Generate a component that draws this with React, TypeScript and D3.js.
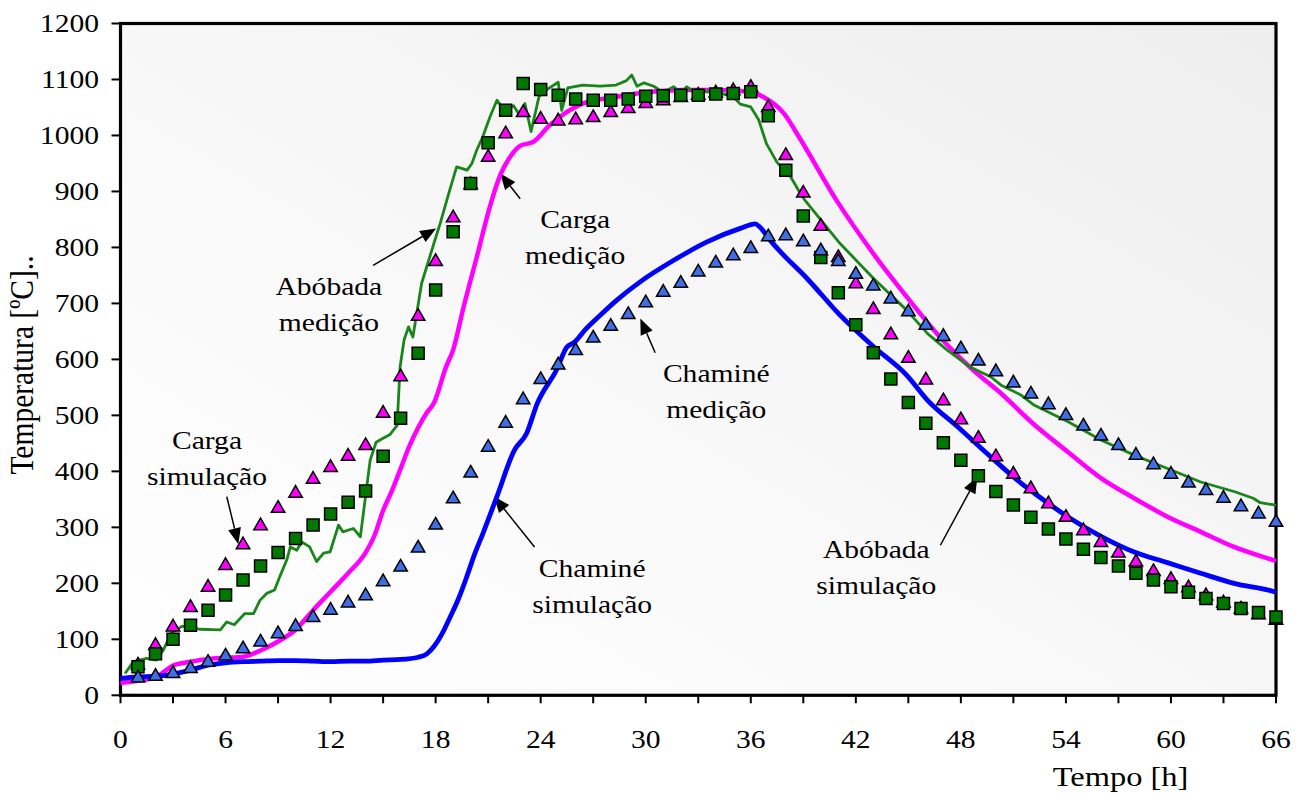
import React, { useRef, useEffect } from 'react';
import * as d3 from 'd3';

const W = 1305;
const H = 794;
const margin = { top: 23.5, right: 29, bottom: 98.7, left: 120.5 };
const SX = 1.16; // the original picture is a bit wider than tall in its lettering

// axes
const xTicks = [0, 3, 6, 9, 12, 15, 18, 21, 24, 27, 30, 33, 36, 39, 42, 45, 48, 51, 54, 57, 60, 63, 66];
const xLabels = [0, 6, 12, 18, 24, 30, 36, 42, 48, 54, 60, 66];
const yTicks = [0, 100, 200, 300, 400, 500, 600, 700, 800, 900, 1000, 1100, 1200];

// hourly points (simulation of carga / abobada, measurement of chaminé)
const pointHours = [1, 2, 3, 4, 5, 6, 7, 8, 9, 10, 11, 12, 13, 14, 15, 16, 17, 18, 19, 20, 21, 22,
  23, 24, 25, 26, 27, 28, 29, 30, 31, 32, 33, 34, 35, 36, 37, 38, 39, 40, 41, 42, 43, 44,
  45, 46, 47, 48, 49, 50, 51, 52, 53, 54, 55, 56, 57, 58, 59, 60, 61, 62, 63, 64, 65, 66];

const cargaSim = [52, 87, 120, 155, 191, 230, 267, 301, 332, 359, 384, 405, 425, 444, 502, 567, 675, 773,
  851, 910, 959, 1001, 1039, 1027, 1024, 1026, 1030, 1039, 1046, 1055, 1060, 1066, 1070, 1074, 1078, 1084,
  1048, 962, 895, 836, 780, 733, 687, 642, 600, 561, 524, 490, 457, 424, 393, 367, 340, 316, 292, 271,
  252, 236, 219, 205, 190, 176, 163, 152, 142, 132];

const abobadaSim = [51, 74, 100, 125, 152, 179, 206, 231, 255, 280, 304, 324, 345, 365, 427, 495, 611, 724,
  828, 914, 987, 1045, 1093, 1082, 1072, 1065, 1063, 1063, 1065, 1070, 1071, 1072, 1072, 1074, 1075, 1078,
  1035, 938, 856, 782, 719, 662, 612, 565, 523, 486, 451, 420, 392, 364, 340, 318, 297, 279, 261, 246,
  231, 218, 206, 194, 184, 173, 164, 155, 148, 140];

const chamineMed = [29, 32, 37, 46, 57, 68, 81, 93, 108, 121, 137, 150, 163, 176, 201, 227, 261, 302,
  349, 395, 441, 484, 526, 562, 588, 614, 636, 657, 678, 699, 718, 734, 754, 770, 783, 796,
  817, 819, 808, 792, 773, 750, 729, 706, 683, 659, 639, 617, 595, 576, 556, 536, 517, 498, 479, 461,
  444, 427, 410, 393, 377, 364, 350, 335, 322, 307];

// continuous curves
const abobadaMedT = [0.26, 0.73, 1.5, 2.07, 2.45, 2.9, 3.5, 3.97, 4.5, 5.7, 6.07, 6.5, 7.1, 7.6, 7.97, 8.35,
  8.8, 9.1, 9.5, 9.7, 10.07, 10.35, 10.8, 11.2, 11.6, 11.97, 12.45, 12.7, 13.3, 13.7, 13.97, 14.26, 14.6,
  15.0, 15.4, 15.8, 15.97, 16.2, 16.45, 16.7, 17.2, 17.9, 18.26, 18.8, 19.2, 19.8, 20.07, 20.35, 20.7,
  21.1, 21.5, 21.9, 22.45, 22.8, 23.1, 23.45, 23.9, 24.35, 25.0, 25.2, 25.55, 26.4, 27.4, 28.3, 28.9,
  29.2, 29.5, 29.9, 30.45, 31.0, 31.6, 32.0, 32.35, 32.7, 33.5, 34.1, 35.0, 35.4, 36.0, 36.45, 36.9,
  37.5, 38.3, 38.8, 39.1, 41.1, 43.0, 44.9, 46.1, 47.2, 48.5, 49.7, 50.3, 51.4, 52.2, 54.1, 56.0, 57.9,
  59.8, 61.7, 63.6, 64.7, 65.1, 65.9, 66];
const abobadaMedV = [39, 60, 66, 63, 81, 111, 123, 123, 118, 117, 131, 126, 146, 146, 170, 182,
  188, 212, 242, 265, 259, 274, 265, 239, 254, 256, 304, 292, 298, 283, 349, 420, 452,
  459, 466, 482, 587, 635, 658, 640, 736, 807, 843, 902, 944, 938, 950, 974, 998,
  1033, 1063, 1046, 1053, 1036, 1057, 1007, 1069, 1082, 1095, 1045, 1085, 1090, 1088, 1090, 1098,
  1108, 1088, 1094, 1088, 1077, 1087, 1076, 1087, 1079, 1078, 1077, 1069, 1056, 1051, 1028, 985,
  952, 925, 898, 884, 807, 745, 688, 646, 617, 587, 569, 554, 537, 518, 489, 456, 429,
  405, 381, 364, 352, 344, 340, 339];

const cargaMedT = [0, 1, 2, 3, 4, 5, 6, 7, 8, 9, 10, 11, 12, 13, 14, 14.5, 15, 15.5, 16, 16.5, 17, 17.5,
  17.9, 18.6, 19.0, 19.6, 20.35, 21.1, 21.7, 22.26, 22.8, 23.6, 24.5, 25.5, 26.4, 28.35, 30.3, 32.1,
  34.1, 36.0, 36.7, 37.9, 38.8, 40.9, 43.0, 44.9, 46.8, 48.7, 50.3, 52.1, 54.1, 56.0, 57.9, 59.8,
  61.7, 63.6, 65.8, 66];
const cargaMedV = [22, 26, 32, 53, 60, 65, 67, 69, 80, 96, 117, 152, 185, 218, 255, 285, 330, 365, 405, 445, 478, 505,
  522, 587, 617, 694, 783, 873, 930, 962, 981, 989, 1018, 1042, 1057, 1069, 1078, 1081,
  1081, 1078, 1069, 1039, 995, 884, 789, 712, 640, 581, 539, 486, 435, 388, 352, 319,
  292, 265, 242, 240];

const chamineSimT = [0, 1, 2, 3, 4, 5, 6, 7, 8, 9, 10, 11, 12, 13, 14, 15, 16, 17, 17.5, 17.9, 18.4, 18.83,
  19.3, 19.78, 20.2, 20.7, 21.5, 22.5, 23.2, 23.8, 24.9, 25.5, 25.9, 26.6, 27.4, 28.35, 29.7, 31.6,
  33.5, 35.4, 36.26, 36.5, 37.1, 37.7, 39.2, 41.1, 43.0, 44.9, 46.1, 47.8, 49.7, 51.4, 52.2, 54.1,
  56.0, 57.9, 59.8, 61.7, 63.6, 65.9, 66];
const chamineSimV = [30, 33, 34, 38, 45, 54, 58, 60, 61, 62, 62, 61, 60, 61, 61, 63, 64, 68, 74, 87, 112, 140,
  172, 212, 250, 289, 355, 438, 468, 521, 581, 622, 630, 655, 679, 706, 739, 777,
  810, 834, 842, 837, 813, 792, 745, 679, 623, 572, 527, 480, 426, 380, 361, 319,
  284, 256, 237, 218, 200, 185, 184];

// callouts, placed in chart units (hours, °C)
const notes = [
  { lines: ['Abóbada', 'medição'], t: 11.9, v: 715, from: [14.43, 768], to: [18.03, 834] },
  { lines: ['Carga', 'medição'], t: 25.97, v: 834, from: [22.83, 887], to: [21.69, 932] },
  { lines: ['Carga', 'simulação'], t: 4.94, v: 440, from: [6.07, 355], to: [6.73, 270] },
  { lines: ['Chaminé', 'medição'], t: 34.03, v: 559, from: [30.54, 612], to: [29.69, 673] },
  { lines: ['Chaminé', 'simulação'], t: 26.94, v: 211, from: [23.65, 265], to: [21.34, 355] },
  { lines: ['Abóbada', 'simulação'], t: 43.17, v: 245, from: [46.83, 268], to: [48.94, 390] },
];

const FONT = '"Liberation Serif", "Times New Roman", serif';

const App = () => {
  const ref = useRef(null);

  useEffect(() => {
    document.body.style.margin = '0';
    const svg = d3.select(ref.current);
    svg.selectAll('*').remove();

    const x = d3.scaleLinear([0, 66], [margin.left, W - margin.right]);
    const y = d3.scaleLinear([0, 1200], [H - margin.bottom, margin.top]);

    const defs = svg.append('defs');
    const grad = defs.append('linearGradient')
      .attr('id', 'plotbg')
      .attr('x1', 1).attr('y1', 0).attr('x2', 0).attr('y2', 1);
    grad.append('stop').attr('offset', 0).attr('stop-color', '#eeeeee');
    grad.append('stop').attr('offset', 0.6).attr('stop-color', '#f9f9f9');
    grad.append('stop').attr('offset', 1).attr('stop-color', '#ffffff');

    svg.append('rect').attr('width', W).attr('height', H).attr('fill', 'white');

    const x0 = x(0), x1 = x(66), y0 = y(0), y1 = y(1200);
    svg.append('rect')
      .attr('x', x0).attr('y', y1)
      .attr('width', x1 - x0).attr('height', y0 - y1)
      .attr('fill', 'url(#plotbg)');

    const stretchedText = (g, px, py, txt, anchor, size) => g.append('text')
      .attr('transform', `translate(${px},${py}) scale(${SX},1)`)
      .attr('text-anchor', anchor)
      .attr('font-family', FONT)
      .attr('font-size', size)
      .attr('fill', 'black')
      .text(txt);

    // ticks
    const axes = svg.append('g');
    axes.selectAll('line.xt').data(xTicks).join('line')
      .attr('x1', d => x(d)).attr('x2', d => x(d))
      .attr('y1', y0).attr('y2', y0 + 8)
      .attr('stroke', 'black').attr('stroke-width', 2);
    axes.selectAll('line.yt').data(yTicks).join('line')
      .attr('class', 'yt')
      .attr('x1', x0 - 9).attr('x2', x0)
      .attr('y1', d => y(d)).attr('y2', d => y(d))
      .attr('stroke', 'black').attr('stroke-width', 2);

    xLabels.forEach(d => stretchedText(axes, x(d), 748, String(d), 'middle', 25.5));
    yTicks.forEach(d => stretchedText(axes, 99, y(d) + 8.5, String(d), 'end', 25.5));

    stretchedText(axes, 1120.5, 786, 'Tempo [h]', 'middle', 28);
    axes.append('text')
      .attr('transform', `translate(33,365) scale(${SX},1) rotate(-90)`)
      .attr('text-anchor', 'middle')
      .attr('font-family', FONT)
      .attr('font-size', 29.5)
      .text('Temperatura [ºC]..');

    // frame
    svg.append('rect')
      .attr('x', x0).attr('y', y1)
      .attr('width', x1 - x0).attr('height', y0 - y1)
      .attr('fill', 'none').attr('stroke', 'black').attr('stroke-width', 3.2);

    // callouts
    const ann = svg.append('g');
    notes.forEach(n => {
      n.lines.forEach((l, i) => stretchedText(ann, x(n.t), y(n.v) + i * 36, l, 'middle', 25.5));
      const ax = x(n.from[0]), ay = y(n.from[1]);
      const bx = x(n.to[0]), by = y(n.to[1]);
      const ang = Math.atan2(by - ay, bx - ax);
      const len = 16, hw = 6.5;
      const baseX = bx - len * Math.cos(ang), baseY = by - len * Math.sin(ang);
      ann.append('line')
        .attr('x1', ax).attr('y1', ay).attr('x2', baseX).attr('y2', baseY)
        .attr('stroke', 'black').attr('stroke-width', 1.5);
      const px = -Math.sin(ang), py = Math.cos(ang);
      ann.append('path')
        .attr('d', `M${bx},${by}L${baseX + hw * px},${baseY + hw * py}L${baseX - hw * px},${baseY - hw * py}Z`)
        .attr('fill', 'black');
    });

    // measured / simulated curves
    const line = d3.line().x(d => x(d[0])).y(d => y(d[1]));
    const smooth = d3.line().x(d => x(d[0])).y(d => y(d[1])).curve(d3.curveMonotoneX);
    const curves = [
      { t: cargaMedT, v: cargaMedV, color: '#ff00ff', w: 4.5, gen: smooth },
      { t: chamineSimT, v: chamineSimV, color: '#0000ff', w: 4.8, gen: smooth },
      { t: abobadaMedT, v: abobadaMedV, color: '#1a861a', w: 2.8, gen: line },
    ];
    const lg = svg.append('g').attr('fill', 'none').attr('stroke-linejoin', 'round');
    curves.forEach(c => {
      lg.append('path')
        .attr('d', c.gen(c.t.map((t, i) => [t, c.v[i]])))
        .attr('stroke', c.color)
        .attr('stroke-width', c.w);
    });

    // markers
    const tri = d3.symbol().type(d3.symbolTriangle).size(78);
    const sq = d3.symbol().type(d3.symbolSquare).size(144);
    const markerSets = [
      { vals: cargaSim, fill: '#ff00ff', shape: tri, dy: -1 },
      { vals: abobadaSim, fill: '#007800', shape: sq, dy: 0 },
      { vals: chamineMed, fill: '#3f6fe6', shape: tri, dy: -1 },
    ];
    markerSets.forEach(m => {
      svg.append('g').selectAll('path')
        .data(pointHours.map((h, i) => [h, m.vals[i]]))
        .join('path')
        .attr('d', m.shape())
        .attr('transform', d => `translate(${x(d[0])},${y(d[1]) + m.dy})`)
        .attr('fill', m.fill)
        .attr('stroke', 'black')
        .attr('stroke-width', 1.5)
        .attr('stroke-linejoin', 'miter');
    });
  }, []);

  return <svg ref={ref} width={W} height={H} style={{ display: 'block' }} />;
};

export default App;
